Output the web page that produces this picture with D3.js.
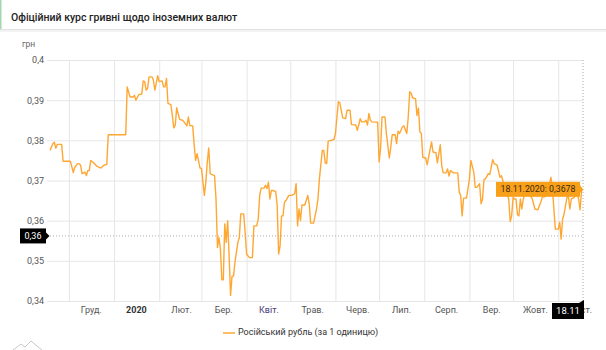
<!DOCTYPE html>
<html><head><meta charset="utf-8">
<script src="https://cdn.jsdelivr.net/npm/d3@7"></script>
<style>
body{margin:0;background:#fff;}
svg{display:block;font-family:Roboto,"Noto Sans",sans-serif;}
</style>
</head><body>
<svg id="c" width="606" height="350"></svg>
<script>
const title = "Офіційний курс гривні щодо іноземних валют";
const unitLabel = "грн";
const seriesName = "Російський рубль (за 1 одиницю)";
const dates = [
"2019-11-18","2019-11-20","2019-11-21","2019-11-22","2019-11-23","2019-11-26","2019-11-27",
"2019-12-02","2019-12-04","2019-12-05","2019-12-07","2019-12-08","2019-12-09","2019-12-10","2019-12-12","2019-12-13","2019-12-14","2019-12-15","2019-12-16","2019-12-18","2019-12-20","2019-12-23","2019-12-25","2019-12-27","2019-12-28",
"2020-01-09","2020-01-10","2020-01-12","2020-01-14","2020-01-15","2020-01-16","2020-01-18","2020-01-20","2020-01-21","2020-01-22","2020-01-23","2020-01-24","2020-01-25","2020-01-27","2020-01-28","2020-01-29","2020-01-31",
"2020-02-01","2020-02-03","2020-02-04","2020-02-05","2020-02-06","2020-02-07","2020-02-09","2020-02-10","2020-02-11","2020-02-12","2020-02-13","2020-02-15","2020-02-17","2020-02-18","2020-02-20","2020-02-21","2020-02-22","2020-02-24","2020-02-25","2020-02-26","2020-02-27","2020-02-29",
"2020-03-01","2020-03-03","2020-03-04","2020-03-05","2020-03-06","2020-03-07","2020-03-08","2020-03-10","2020-03-11","2020-03-12","2020-03-13","2020-03-14","2020-03-15","2020-03-16","2020-03-17","2020-03-18","2020-03-19","2020-03-20","2020-03-21","2020-03-22","2020-03-23","2020-03-24","2020-03-26","2020-03-27","2020-03-28","2020-03-30","2020-03-31",
"2020-04-01","2020-04-02","2020-04-03","2020-04-05","2020-04-06","2020-04-08","2020-04-09","2020-04-10","2020-04-11","2020-04-13","2020-04-14","2020-04-15","2020-04-16","2020-04-17","2020-04-18","2020-04-19","2020-04-21","2020-04-22","2020-04-23","2020-04-24","2020-04-25","2020-04-26","2020-04-27","2020-04-28","2020-04-30",
"2020-05-02","2020-05-04","2020-05-05","2020-05-06","2020-05-07","2020-05-08","2020-05-09","2020-05-11","2020-05-13","2020-05-14","2020-05-15","2020-05-17","2020-05-19","2020-05-20","2020-05-21","2020-05-23","2020-05-24","2020-05-25","2020-05-26","2020-05-27","2020-05-29","2020-05-31",
"2020-06-01","2020-06-03","2020-06-04","2020-06-06","2020-06-08","2020-06-09","2020-06-11","2020-06-12","2020-06-15","2020-06-16","2020-06-17","2020-06-18","2020-06-19","2020-06-21","2020-06-22","2020-06-23","2020-06-24","2020-06-25","2020-06-26","2020-06-30",
"2020-07-01","2020-07-02","2020-07-03","2020-07-05","2020-07-06","2020-07-08","2020-07-09","2020-07-10","2020-07-12","2020-07-13","2020-07-14","2020-07-15","2020-07-17","2020-07-18","2020-07-20","2020-07-21","2020-07-22","2020-07-23","2020-07-24","2020-07-26","2020-07-27","2020-07-28","2020-07-29","2020-07-30","2020-07-31",
"2020-08-02","2020-08-03","2020-08-04","2020-08-06","2020-08-07","2020-08-09","2020-08-10","2020-08-12","2020-08-13","2020-08-14","2020-08-16","2020-08-17","2020-08-18","2020-08-19","2020-08-21","2020-08-24","2020-08-25","2020-08-26","2020-08-27","2020-08-28","2020-08-30",
"2020-09-01","2020-09-02","2020-09-04","2020-09-05","2020-09-06","2020-09-08","2020-09-09","2020-09-10","2020-09-11","2020-09-12","2020-09-14","2020-09-15","2020-09-17","2020-09-18","2020-09-20","2020-09-22","2020-09-23","2020-09-25","2020-09-27","2020-09-28","2020-09-29","2020-09-30",
"2020-10-01","2020-10-02","2020-10-03","2020-10-04","2020-10-05","2020-10-06","2020-10-07","2020-10-08","2020-10-09","2020-10-11","2020-10-13","2020-10-14","2020-10-16","2020-10-18","2020-10-20","2020-10-21","2020-10-23","2020-10-25","2020-10-27","2020-10-28","2020-10-29","2020-10-30",
"2020-11-01","2020-11-02","2020-11-03","2020-11-04","2020-11-05","2020-11-07","2020-11-08","2020-11-09","2020-11-10","2020-11-12","2020-11-14","2020-11-15","2020-11-16","2020-11-17","2020-11-18"
];
const rates = [
0.3775,0.3792,0.3795,0.378,0.379,0.379,0.3748,
0.3748,0.372,0.3733,0.3742,0.3742,0.3738,0.3717,0.3721,0.3712,0.3725,0.3725,0.375,0.3744,0.3736,0.3731,0.3738,0.374,0.3814,
0.3814,0.3933,0.3908,0.3908,0.3912,0.39,0.3914,0.3915,0.3948,0.3946,0.3925,0.3929,0.3958,0.3958,0.395,0.3925,0.3961,
0.3946,0.3948,0.3933,0.3933,0.3954,0.3892,0.3889,0.3862,0.3831,0.3837,0.3881,0.3852,0.385,0.3846,0.3836,0.3858,0.3837,0.3836,0.3788,0.375,0.3767,0.3731,
0.373,0.3663,0.3696,0.3746,0.3781,0.3717,0.3715,0.3712,0.3654,0.3533,0.3558,0.353,0.3453,0.3453,0.3592,0.3546,0.36,0.3513,0.3414,0.3462,0.3462,0.3496,0.3546,0.3558,0.3617,0.3617,0.3571,
0.3517,0.3512,0.3508,0.3508,0.3587,0.3587,0.3604,0.3663,0.3681,0.3681,0.3688,0.368,0.3696,0.3654,0.3675,0.3675,0.3673,0.3638,0.3517,0.3537,0.3612,0.3612,0.3646,0.365,0.3663,
0.3663,0.3667,0.3692,0.3587,0.3629,0.36,0.3639,0.3639,0.3663,0.3642,0.3594,0.3594,0.3629,0.3654,0.3704,0.3775,0.3775,0.3744,0.3742,0.3798,0.38,0.3802,
0.3817,0.3896,0.3894,0.3856,0.3854,0.3875,0.3875,0.3839,0.3838,0.3825,0.3838,0.3854,0.3846,0.3846,0.385,0.3838,0.3867,0.385,0.3846,0.3845,
0.3746,0.378,0.3858,0.3858,0.3817,0.3756,0.3783,0.3814,0.3814,0.3792,0.3823,0.3817,0.3833,0.3836,0.3817,0.3858,0.3921,0.3917,0.3906,0.3904,0.3862,0.388,0.3821,0.3817,0.3758,
0.3756,0.3739,0.3758,0.3796,0.3771,0.3769,0.3744,0.3789,0.3737,0.3719,0.3719,0.3729,0.3711,0.3725,0.3719,0.3719,0.3671,0.3663,0.3612,0.3656,0.3656,
0.3704,0.375,0.3721,0.3683,0.3683,0.3692,0.3642,0.3654,0.3702,0.3704,0.3717,0.3715,0.3752,0.3742,0.3738,0.3708,0.3712,0.3685,0.3665,0.3654,0.3598,0.3612,
0.3658,0.3654,0.3654,0.3615,0.3612,0.3654,0.3629,0.3654,0.3665,0.3675,0.366,0.3656,0.3629,0.3627,0.3646,0.3658,0.366,0.3675,0.3708,0.3683,0.3629,0.3579,
0.3579,0.3596,0.3554,0.3604,0.3617,0.3658,0.366,0.3629,0.3654,0.3658,0.3665,0.3654,0.3627,0.3675,0.3678
];
const yTicks = [0.34,0.35,0.36,0.37,0.38,0.39,0.40];
const gridDates = ["2019-12-01","2020-01-01","2020-02-01","2020-03-01","2020-04-01","2020-05-01","2020-06-01","2020-07-01","2020-08-01","2020-09-01","2020-10-01","2020-11-01"];
const monthLabelDates = ["2019-12-16","2020-01-16","2020-02-16","2020-03-16","2020-04-16","2020-05-16","2020-06-16","2020-07-16","2020-08-16","2020-09-16","2020-10-16","2020-11-16"];
const monthLabels = ["Груд.","2020","Лют.","Бер.","Квіт.","Трав.","Черв.","Лип.","Серп.","Вер.","Жовт.","Лист."];
const domainDates = ["2019-11-18","2020-11-18"];
const crosshairValue = 0.3562;
const crosshairLabel = "0,36";
const crosshairDateLabel = "18.11";

const parse = d3.timeParse("%Y-%m-%d");
const data = dates.map((d,i)=>({date:parse(d), v:rates[i]}));
const svg = d3.select("#c");
const L = 47, R = 583, T = 60, B = 301;
const x = d3.scaleTime().domain(domainDates.map(parse)).range([50, R]);
const y = d3.scaleLinear().domain([0.34,0.40]).range([B, T]);
const fmt = v => String(+v.toFixed(4)).replace(".", ",");

// header
svg.append("rect").attr("x",0).attr("y",0).attr("width",606).attr("height",30).attr("fill","#fff");
svg.append("rect").attr("x",0).attr("y",0).attr("width",1.5).attr("height",30).attr("fill","#a5d6b0");
svg.append("rect").attr("x",0).attr("y",29).attr("width",606).attr("height",1.2).attr("fill","#e2e2e2");
svg.append("rect").attr("x",0).attr("y",30.2).attr("width",606).attr("height",1.6).attr("fill","#f0f0f0");
svg.append("text").attr("x",11).attr("y",18).attr("dominant-baseline","middle")
  .attr("font-size",10.5).attr("font-weight",500).attr("fill","#222").text(title);

// unit
svg.append("text").attr("x",22).attr("y",45).attr("dominant-baseline","middle")
  .attr("font-size",8.5).attr("fill","#666").text(unitLabel);

// y axis with grid
const yAxis = svg.append("g").attr("transform",`translate(${L},0)`)
  .call(d3.axisLeft(y).tickValues(yTicks).tickSize(-(R-L)).tickPadding(3).tickFormat(fmt));
yAxis.select(".domain").remove();
yAxis.selectAll("line").attr("stroke","#e6e6e6");
yAxis.selectAll("text").attr("font-size",9).attr("fill","#555").attr("font-family","Roboto");

// x grid
const xGrid = svg.append("g").attr("transform",`translate(0,${B})`)
  .call(d3.axisBottom(x).tickValues(gridDates.map(parse)).tickSize(-(B-T)).tickFormat(""));
xGrid.select(".domain").remove();
xGrid.selectAll("line").attr("stroke","#e6e6e6");

// x labels
const xAxis = svg.append("g").attr("transform",`translate(0,${B})`)
  .call(d3.axisBottom(x).tickValues(monthLabelDates.map(parse)).tickSize(0).tickPadding(6)
    .tickFormat((d,i)=>monthLabels[i]));
xAxis.select(".domain").remove();
xAxis.selectAll("text").attr("font-size",9).attr("fill","#555").attr("font-family","Roboto")
  .attr("font-weight",(d,i)=>monthLabels[i]==="2020"?700:400)
  .attr("fill",(d,i)=>monthLabels[i]==="2020"?"#333":(monthLabels[i]==="Квіт."?"#4b3a7a":"#555"));

// crosshair
svg.append("line").attr("x1",L).attr("x2",R).attr("y1",y(crosshairValue)).attr("y2",y(crosshairValue))
  .attr("stroke","#aaa").attr("stroke-dasharray","1,2");
svg.append("line").attr("x1",R).attr("x2",R).attr("y1",T).attr("y2",B)
  .attr("stroke","#aaa").attr("stroke-dasharray","1,2");

// line
svg.append("path").datum(data)
  .attr("d", d3.line().x(d=>x(d.date)).y(d=>y(d.v)))
  .attr("fill","none").attr("stroke","#ffa733").attr("stroke-width",1.4).attr("stroke-linejoin","round");

// tooltip
const last = data[data.length-1];
const px = x(last.date), py = y(last.v);
const tt = svg.append("g");
const ttText = d3.timeFormat("%d.%m.%Y")(last.date) + ": " + fmt(last.v);
const tw = 84, th = 15;
tt.append("rect").attr("x",px-3-tw).attr("y",py-th/2).attr("width",tw).attr("height",th).attr("fill","#f9a01b");
tt.append("path").attr("d",`M${px-3},${py-4}L${px},${py}L${px-3},${py+4}Z`).attr("fill","#f9a01b");
tt.append("text").attr("x",px-3-tw/2).attr("y",py+0.5).attr("text-anchor","middle").attr("dominant-baseline","middle")
  .attr("font-size",8.8).attr("fill","#3b2a0a").text(ttText);

// left crosshair label
const cy = y(crosshairValue);
svg.append("rect").attr("x",20).attr("y",cy-7.5).attr("width",26).attr("height",15).attr("fill","#000");
svg.append("path").attr("d",`M46,${cy-3.5}L49.5,${cy}L46,${cy+3.5}Z`).attr("fill","#000");
svg.append("text").attr("x",33).attr("y",cy+0.5).attr("text-anchor","middle").attr("dominant-baseline","middle")
  .attr("font-size",9).attr("fill","#fff").text(crosshairLabel);

// bottom crosshair label
svg.append("rect").attr("x",R-31).attr("y",B+2).attr("width",32).attr("height",16).attr("fill","#000");
svg.append("path").attr("d",`M${R-4},${B+2}L${R+1},${B-1}L${R+1},${B+2}Z`).attr("fill","#000");
svg.append("text").attr("x",R-15).attr("y",B+10.5).attr("text-anchor","middle").attr("dominant-baseline","middle")
  .attr("font-size",9.5).attr("fill","#fff").text(crosshairDateLabel);

// legend
svg.append("line").attr("x1",223).attr("x2",235).attr("y1",333).attr("y2",333).attr("stroke","#ffa733").attr("stroke-width",1.5);
svg.append("text").attr("x",238).attr("y",333).attr("dominant-baseline","middle")
  .attr("font-size",9).attr("fill","#333").text(seriesName);

// small logo bottom-left
svg.append("path").attr("d","M13,350 L21,344 L25,347 L31,341 L37,346 L42,350")
  .attr("fill","none").attr("stroke","#c8c8c8").attr("stroke-width",1);
</script>
</body></html>
